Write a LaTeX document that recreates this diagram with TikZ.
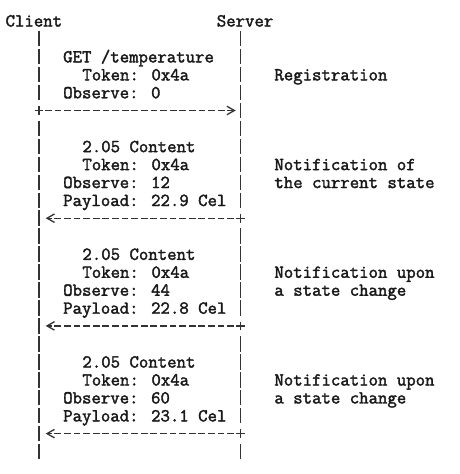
\documentclass[tikz,border=0pt]{standalone}
\usepackage{fontspec}
\newfontfamily\asciifont{Latin Modern Mono}[FakeBold=2]
\usetikzlibrary{arrows.meta}
\begin{document}
\begin{tikzpicture}[x=1pt,y=-1pt,
  txt/.style={font=\asciifont\fontsize{18.29}{18}\selectfont, inner sep=0pt, anchor=base west, text=black!90},
  lifeline/.style={draw=black!80, line width=1.3pt, dash pattern=on 15.5pt off 2.45pt},
  msg/.style={draw=black!80, line width=1.3pt, dash pattern=on 6.8pt off 2.8pt, -{Straight Barb[length=7.5pt,width=8.5pt]}},
  plusmark/.style={draw=black!80, line width=1.3pt}]
\useasboundingbox (0,0) rectangle (460,474);
% headers
\node[txt] (client) at (5.4,26.5) {Client};
\node[txt] (server) at (216.6,26.5) {Server};
% lifeline coordinates
\coordinate (cl1t) at (39,30.95);
\coordinate (cl1b) at (39,100.3);
\coordinate (cl2t) at (39,120.7);
\coordinate (cl2b) at (39,459.3);
\coordinate (sl1t) at (240.6,30.95);
\coordinate (sl1b) at (240.6,208.0);
\coordinate (sl2t) at (240.6,228.4);
\coordinate (sl2b) at (240.6,315.7);
\coordinate (sl3t) at (240.6,336.1);
\coordinate (sl3b) at (240.6,423.4);
\coordinate (sl4t) at (240.6,443.8);
\coordinate (sl4b) at (240.6,459.3);
\draw[lifeline] (cl1t) -- (cl1b);
\draw[lifeline] (cl2t) -- (cl2b);
\draw[lifeline] (sl1t) -- (sl1b);
\draw[lifeline] (sl2t) -- (sl2b);
\draw[lifeline] (sl3t) -- (sl3b);
\draw[lifeline] (sl4t) -- (sl4b);
% arrow end points
\coordinate (c5) at (39,110.5);
\coordinate (s5) at (240.6,110.5);
\coordinate (c11) at (39,218.2);
\coordinate (s11) at (240.6,218.2);
\coordinate (c17) at (39,325.9);
\coordinate (s17) at (240.6,325.9);
\coordinate (c23) at (39,433.6);
\coordinate (s23) at (240.6,433.6);
% plus marks
\foreach \p in {c5,s11,s17,s23}{
  \draw[plusmark] (\p) +(-4.3,0) -- +(4.3,0);
  \draw[plusmark] (\p) +(0,-4.3) -- +(0,4.3);
}
% messages
\draw[msg, shorten <=6pt, shorten >=4.9pt] (c5) -- (s5);
\draw[msg, shorten <=6.7pt, shorten >=6.7pt] (s11) -- (c11);
\draw[msg, shorten <=6.7pt, shorten >=6.7pt] (s17) -- (c17);
\draw[msg, shorten <=6.7pt, shorten >=6.7pt] (s23) -- (c23);
% message 1
\node[txt] (m1a) at (63.0,62.4) {GET /temperature};
\node[txt] (m1b) at (82.2,80.35) {Token: 0x4a};
\node[txt] (m1c) at (63.0,98.3) {Observe: 0};
\node[txt] (n1a) at (274.2,80.35) {Registration};
% message 2
\node[txt] (m2a) at (82.2,152.15) {2.05 Content};
\node[txt] (m2b) at (82.2,170.1) {Token: 0x4a};
\node[txt] (m2c) at (63.0,188.05) {Observe: 12};
\node[txt] (m2d) at (63.0,206.0) {Payload: 22.9 Cel};
\node[txt] (n2a) at (274.2,170.1) {Notification of};
\node[txt] (n2b) at (274.2,188.05) {the current state};
% message 3
\node[txt] (m3a) at (82.2,259.85) {2.05 Content};
\node[txt] (m3b) at (82.2,277.8) {Token: 0x4a};
\node[txt] (m3c) at (63.0,295.75) {Observe: 44};
\node[txt] (m3d) at (63.0,313.7) {Payload: 22.8 Cel};
\node[txt] (n3a) at (274.2,277.8) {Notification upon};
\node[txt] (n3b) at (274.2,295.75) {a state change};
% message 4
\node[txt] (m4a) at (82.2,367.55) {2.05 Content};
\node[txt] (m4b) at (82.2,385.5) {Token: 0x4a};
\node[txt] (m4c) at (63.0,403.45) {Observe: 60};
\node[txt] (m4d) at (63.0,421.4) {Payload: 23.1 Cel};
\node[txt] (n4a) at (274.2,385.5) {Notification upon};
\node[txt] (n4b) at (274.2,403.45) {a state change};
\end{tikzpicture}
\end{document}
